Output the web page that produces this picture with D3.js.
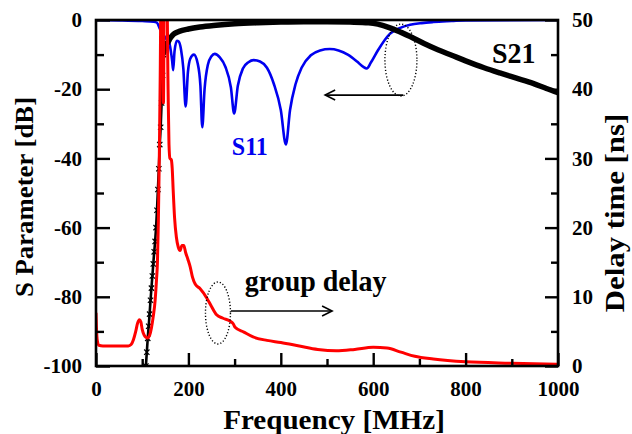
<!DOCTYPE html>
<html>
<head>
<meta charset="utf-8">
<script src="https://cdn.jsdelivr.net/npm/d3@7"></script>
<style>
  body { margin: 0; background: #fff; }
  svg text { font-family: "Liberation Serif", "Times New Roman", serif; font-weight: bold; }
</style>
</head>
<body>
<div id="graph"></div>
<script>
// Data: [frequency MHz, value]
const s11 = [[0,0],[50,-0.1],[100,-0.3],[125,-0.5],[132,-0.8],[138,-2.5],[145,-4],[152,-5.5],[158,-6.3],[162,-9],
  [165,-12],[167,-14.5],[170,-9],[175,-6],[179,-6.2],[184,-8.5],[189,-14],[194,-25],[199,-15],[204,-11.2],
  [212,-10],[220,-12.5],[226,-19],[230,-31],[235,-20],[242,-13],[250,-10.5],[257,-9.8],[268,-10.8],[280,-13.5],
  [292,-19.5],[299,-27],[307,-19],[318,-14],[330,-12.2],[341,-11.6],[355,-12],[370,-13.8],[385,-18.5],[400,-26],
  [411,-36],[420,-26],[432,-18.5],[445,-13.8],[465,-10.2],[485,-8.8],[506,-8.4],[525,-8.8],[545,-10],[565,-12],
  [578,-13.5],[586,-14],[595,-12.3],[610,-8.8],[636,-4],[660,-2.2],[680,-1.4],[705,-0.9],[730,-0.6],[770,-0.3],
  [800,-0.1],[1000,0]];

const s21 = [[108,-100],[110,-96],[112,-92],[114,-88.5],[116,-85],[118,-81],[120,-77.5],[122,-74],[124,-70.5],
  [126,-67],[128,-64],[130,-60],[132,-55],[134,-49],[136,-43],[138,-36],[140,-31],[142,-24],[144,-16],[146,-10],
  [149,-8],[152,-7],[156,-6.4],[160,-5.4],[165,-4.5],[170,-3.9],[180,-3.3],[200,-2.6],[225,-2],[260,-1.5],
  [300,-1.1],[350,-0.8],[400,-0.6],[450,-0.5],[500,-0.5],[550,-0.6],[590,-0.8],[610,-1.2],[630,-2],[650,-3],
  [680,-4.8],[710,-6.8],[740,-8.6],[770,-10.2],[800,-11.8],[840,-13.8],[874,-15.3],[910,-16.8],[946,-18.3],
  [975,-19.8],[1000,-21]];

const groupDelay = [[0,7.7],[1,5.5],[3,3.6],[6,3.0],[15,2.9],[40,2.9],[70,2.9],[76,3.1],[81,3.8],[86,5],[90,6.2],
  [94,6.7],[97,6.4],[100,5.3],[104,4.5],[108,4.15],[112,4.05],[116,4.4],[120,5.5],[124,7.2],[128,9.5],[131,12.5],
  [133,15],[135,21],[137,30],[139,42],[141,56],[144,56],[146,38],[148,56],[153,56],[156,40],[158,32],[160,30],
  [163,29.8],[165,28.5],[167,25.5],[170,21.5],[174,18.6],[178,17.2],[182,16.7],[186,17.4],[190,17.4],[194,16.4],
  [199,15.4],[204,14.3],[209,12.8],[215,11.8],[225,11.2],[240,9.8],[250,8.6],[261,7.4],[275,6.9],[290,6.5],
  [297,6.1],[301,5.6],[320,4.9],[340,4.2],[370,3.7],[400,3.4],[440,2.9],[480,2.4],[520,2.2],[560,2.4],[600,2.7],
  [630,2.6],[660,2.0],[690,1.4],[730,1.0],[800,0.6],[900,0.4],[1000,0.25]];

const xMajor = [0,200,400,600,800,1000];
const xMinor = [100,300,500,700,900];
const yLeftMajor = [-100,-80,-60,-40,-20,0];
const yLeftMinor = [-90,-70,-50,-30,-10];
const yRightMajor = [0,10,20,30,40,50];
const yRightMinor = [5,15,25,35,45];

//General config
const width = 632, height = 434;
const plot = {left: 96, right: 558, top: 20, bottom: 366};
const fontFamily = '"Liberation Serif", "Times New Roman", serif';

const svg = d3.select('#graph').append('svg')
    .attr('width', width)
    .attr('height', height);

//Scales
const x = d3.scaleLinear().domain([0, 1000]).range([plot.left, plot.right]);
const yL = d3.scaleLinear().domain([-100, 0]).range([plot.bottom, plot.top]);
const yR = d3.scaleLinear().domain([0, 50]).range([plot.bottom, plot.top]);

svg.append('defs').append('clipPath').attr('id', 'clip')
  .append('rect')
    .attr('x', plot.left).attr('y', plot.top)
    .attr('width', plot.right - plot.left).attr('height', plot.bottom - plot.top);

const lineL = d3.line().x(d => x(d[0])).y(d => yL(d[1])).curve(d3.curveMonotoneX);
const lineR = d3.line().x(d => x(d[0])).y(d => yR(d[1])).curve(d3.curveMonotoneX);

const series = svg.append('g').attr('clip-path', 'url(#clip)');

//S11
series.append('path')
    .attr('d', lineL(s11))
    .attr('fill', 'none')
    .attr('stroke', '#0000f0')
    .attr('stroke-width', 2.6);

//S21 (measured points with x markers)
series.append('path')
    .attr('d', lineL(s21))
    .attr('fill', 'none')
    .attr('stroke', '#000')
    .attr('stroke-width', 2.6);
series.append('path')
    .attr('d', lineL(s21.filter(d => d[0] >= 146)))
    .attr('fill', 'none')
    .attr('stroke', '#000')
    .attr('stroke-width', 5.5);
series.selectAll('.mark')
    .data(s21.filter(d => d[0] < 150))
    .enter()
    .append('path')
    .attr('class', 'mark')
    .attr('transform', d => `translate(${x(d[0])},${yL(d[1])})`)
    .attr('d', d3.symbol(d3.symbolX, 20)())
    .attr('stroke', '#000')
    .attr('stroke-width', 1.2);

//Group delay
series.append('path')
    .attr('d', lineR(groupDelay))
    .attr('fill', 'none')
    .attr('stroke', '#ff0000')
    .attr('stroke-width', 3);

//Axes
function styleTicks(g) {
  g.attr('font-family', fontFamily).attr('font-weight', 'bold').attr('font-size', 21);
  g.selectAll('.tick line').attr('stroke', '#000').attr('stroke-width', 2.4);
  g.selectAll('.domain').remove();
  g.selectAll('text')
    .attr('fill', '#000')
    .style('font-family', fontFamily)
    .style('font-weight', 'bold')
    .style('font-size', '21px');
}
const plain = d => String(d);

svg.append('g')
    .attr('transform', `translate(0,${plot.bottom})`)
    .call(d3.axisBottom(x).tickValues(xMajor).tickSize(-13).tickPadding(15).tickFormat(plain))
    .call(styleTicks);
svg.append('g')
    .attr('transform', `translate(0,${plot.bottom})`)
    .call(d3.axisBottom(x).tickValues(xMinor).tickSize(-7).tickFormat(''))
    .call(styleTicks);

svg.append('g')
    .attr('transform', `translate(${plot.left},0)`)
    .call(d3.axisLeft(yL).tickValues(yLeftMajor).tickSize(-14).tickPadding(14).tickFormat(plain))
    .call(styleTicks);
svg.append('g')
    .attr('transform', `translate(${plot.left},0)`)
    .call(d3.axisLeft(yL).tickValues(yLeftMinor).tickSize(-8).tickFormat(''))
    .call(styleTicks);

svg.append('g')
    .attr('transform', `translate(${plot.right},0)`)
    .call(d3.axisRight(yR).tickValues(yRightMajor).tickSize(-13).tickPadding(14).tickFormat(plain))
    .call(styleTicks);
svg.append('g')
    .attr('transform', `translate(${plot.right},0)`)
    .call(d3.axisRight(yR).tickValues(yRightMinor).tickSize(-7).tickFormat(''))
    .call(styleTicks);

//Frame
svg.append('rect')
    .attr('x', plot.left).attr('y', plot.top)
    .attr('width', plot.right - plot.left).attr('height', plot.bottom - plot.top)
    .attr('fill', 'none')
    .attr('stroke', '#000')
    .attr('stroke-width', 2.6);

//Axis titles
svg.append('text')
    .attr('transform', 'translate(334,428.5) scale(1.04,1)')
    .attr('text-anchor', 'middle')
    .style('font-size', '28px')
    .text('Frequency [MHz]');

svg.append('text')
    .attr('transform', `translate(33,197) rotate(-90) scale(1.03,1)`)
    .attr('text-anchor', 'middle')
    .style('font-size', '26px')
    .text('S Parameter [dB]');

svg.append('text')
    .attr('transform', `translate(624,213) rotate(-90) scale(1.1,1)`)
    .attr('text-anchor', 'middle')
    .style('font-size', '28px')
    .text('Delay time [ns]');

//Annotations
svg.append('text')
    .attr('transform', `translate(${x(857)},${yL(-12.4)}) scale(1,1.08)`)
    .style('font-size', '28px')
    .text('S21');

svg.append('text')
    .attr('transform', `translate(${x(294)},${yL(-39)}) scale(1,1.08)`)
    .attr('fill', '#0000f0')
    .style('font-size', '24px')
    .text('S11');

svg.append('text')
    .attr('transform', `translate(${x(322)},${yR(10.8)}) scale(1,1.08)`)
    .style('font-size', '28px')
    .text('group delay');

//Dotted ellipses and arrows
svg.append('ellipse')
    .attr('cx', x(660)).attr('cy', yL(-11.6))
    .attr('rx', 16).attr('ry', 36)
    .attr('fill', 'none').attr('stroke', '#000')
    .attr('stroke-width', 1.4).attr('stroke-dasharray', '1.2,2');
svg.append('ellipse')
    .attr('cx', x(264)).attr('cy', yR(7.66))
    .attr('rx', 12.5).attr('ry', 31)
    .attr('fill', 'none').attr('stroke', '#000')
    .attr('stroke-width', 1.4).attr('stroke-dasharray', '1.2,2');

function arrow(x1, y1, x2, y2) {
  const dir = Math.sign(x2 - x1);
  svg.append('line')
      .attr('x1', x1).attr('y1', y1).attr('x2', x2).attr('y2', y2)
      .attr('stroke', '#000').attr('stroke-width', 1.6);
  svg.append('path')
      .attr('d', `M${x2 - dir * 10},${y2 - 5}L${x2},${y2}L${x2 - dir * 10},${y2 + 5}`)
      .attr('fill', 'none').attr('stroke', '#000').attr('stroke-width', 1.6);
}
arrow(x(665), yL(-21.7), x(496), yL(-21.7));
arrow(x(292), yR(7.95), x(511), yR(7.95));
</script>
</body>
</html>
